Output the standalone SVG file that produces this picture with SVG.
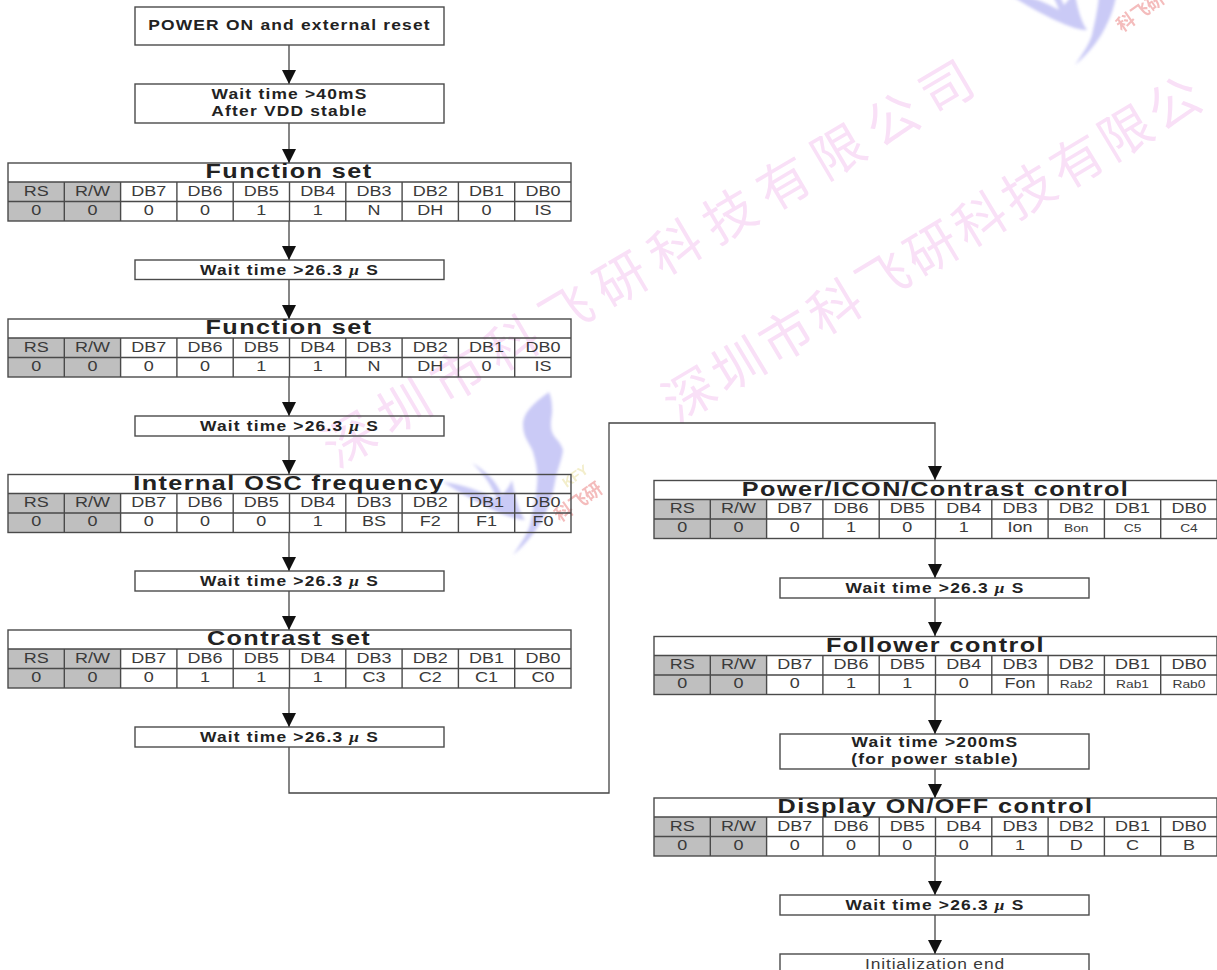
<svg xmlns="http://www.w3.org/2000/svg" width="1217" height="970" viewBox="0 0 1217 970">
<style>
text{font-family:"Liberation Sans",Arial,sans-serif;fill:#2a2a2a;text-anchor:middle}
.box{fill:none;stroke:#4a4a4a;stroke-width:1.4}
.grid{fill:none;stroke:#4a4a4a;stroke-width:1.4}
.shade{fill:#bfbfbf}
.cell{font-size:15px;fill:#3a3a3a}
.small{font-size:11.5px;fill:#3a3a3a}
.title{font-size:21px;font-weight:bold;letter-spacing:1.2px;fill:#222}
.wait{font-size:14.5px;font-weight:bold;letter-spacing:1px;fill:#222}
.plain{font-size:14.5px;letter-spacing:.7px;fill:#3a3a3a}
.mu{font-family:"Liberation Serif",serif;font-style:italic}
.conn{fill:none;stroke:#444;stroke-width:1.3}
.wm{font-family:"Noto Sans CJK SC",sans-serif;font-size:52px;fill:#f9e0f7;text-anchor:start}
.logo{fill:#cacaf6}
.lt{font-family:"Noto Sans CJK SC",sans-serif;font-size:18px;font-weight:bold;fill:#f4bcbc}
.ly{font-size:14px;font-weight:bold;fill:#f3eecb}
</style>
<defs>
<marker id="arr" markerUnits="userSpaceOnUse" markerWidth="15" markerHeight="15" refX="14" refY="7.5" orient="auto"><path d="M0 0.5L14 7.5L0 14.5Z" fill="#111"/></marker>
<filter id="soft" x="-20%" y="-20%" width="140%" height="140%"><feGaussianBlur stdDeviation="1.5"/></filter>
<filter id="soft2" x="-20%" y="-20%" width="140%" height="140%"><feGaussianBlur stdDeviation=".7"/></filter>
<g id="grid">
<rect class="shade" x="0" y="19" width="112.6" height="39"/>
<rect class="grid" x="0" y="0" width="563" height="58"/>
<path class="grid" d="M0 19H563M0 38.5H563M56.3 19V58M112.6 19V58M168.9 19V58M225.2 19V58M281.5 19V58M337.8 19V58M394.1 19V58M450.4 19V58M506.7 19V58"/>
<g transform="scale(1.2,1)">
<text class="cell" x="23.46" y="33">RS</text><text class="cell" x="70.38" y="33">R/W</text><text class="cell" x="117.3" y="33">DB7</text><text class="cell" x="164.2" y="33">DB6</text><text class="cell" x="211.1" y="33">DB5</text><text class="cell" x="258.1" y="33">DB4</text><text class="cell" x="305" y="33">DB3</text><text class="cell" x="351.9" y="33">DB2</text><text class="cell" x="398.8" y="33">DB1</text><text class="cell" x="445.8" y="33">DB0</text>
<text class="cell" x="23.46" y="52">0</text><text class="cell" x="70.38" y="52">0</text>
</g>
</g>
<g id="logoMark">
<g filter="url(#soft)">
<path class="logo" d="M549 392C535 402 523 412 523 425C523 438 531 445 533 452C537 465 538 475 537 485C536 500 532 515 530 525C526 537 518 547 513 555C525 545 536 532 543 518C550 505 553 493 555 482C557 470 562 460 563 450C561 442 554 438 552 432C549 422 553 415 552 408C552 402 551 397 549 392Z"/>
<path class="logo" d="M472 463C485 470 497 482 502 495C507 490 510 485 512 480C515 495 518 510 525 520C510 520 480 505 443 482C460 484 480 490 497 500C492 485 482 472 472 463Z"/>
</g>
<g filter="url(#soft2)">
<text class="ly" transform="translate(578,480) rotate(-35)">KFY</text>
<text class="lt" transform="translate(582,507) rotate(-35)">科飞研</text>
</g>
</g>
</defs>
<rect width="1217" height="970" fill="#fff"/>
<g id="watermark">
<text class="wm" transform="translate(350,440) rotate(-30.5)" x="-26" y="18" style="letter-spacing:11px">深圳市科飞研科技有限公司</text>
<text class="wm" transform="translate(690,395) rotate(-31)" x="-26" y="18" style="letter-spacing:4.5px">深圳市科飞研科技有限公</text>
<use href="#logoMark"/>
<use href="#logoMark" transform="translate(562,-490)"/>
</g>
<g id="connectors">
<path class="conn" marker-end="url(#arr)" d="M289 45V84"/>
<path class="conn" marker-end="url(#arr)" d="M289 123V163"/>
<path class="conn" marker-end="url(#arr)" d="M289 221V260"/>
<path class="conn" marker-end="url(#arr)" d="M289 280V319"/>
<path class="conn" marker-end="url(#arr)" d="M289 377V416"/>
<path class="conn" marker-end="url(#arr)" d="M289 436V474"/>
<path class="conn" marker-end="url(#arr)" d="M289 532V571"/>
<path class="conn" marker-end="url(#arr)" d="M289 591V630"/>
<path class="conn" marker-end="url(#arr)" d="M289 688V727"/>
<path class="conn" marker-end="url(#arr)" d="M289 747V793H609V423H935V480"/>
<path class="conn" marker-end="url(#arr)" d="M935 539V578"/>
<path class="conn" marker-end="url(#arr)" d="M935 598V636"/>
<path class="conn" marker-end="url(#arr)" d="M935 695V734"/>
<path class="conn" marker-end="url(#arr)" d="M935 769V798"/>
<path class="conn" marker-end="url(#arr)" d="M935 857V895"/>
<path class="conn" marker-end="url(#arr)" d="M935 915V954"/>
</g>
<g id="n-power-on"><rect class="box" x="135" y="7" width="309" height="38"/><text class="wait" transform="translate(289.5,30) scale(1.2,1)">POWER ON and external reset</text></g>
<g id="n-wait-40"><rect class="box" x="135" y="84" width="309" height="39"/><text class="wait" transform="translate(289.5,99) scale(1.2,1)">Wait time &gt;40mS</text><text class="wait" transform="translate(289.5,116) scale(1.2,1)">After VDD stable</text></g>
<g id="n-fs1"><use href="#grid" x="8" y="163"/><g transform="translate(8,163) scale(1.2,1)"><text class="title" x="234.2" y="15">Function set</text>
<text class="cell" x="117.3" y="52">0</text><text class="cell" x="164.2" y="52">0</text><text class="cell" x="211.1" y="52">1</text><text class="cell" x="258.1" y="52">1</text><text class="cell" x="305" y="52">N</text><text class="cell" x="351.9" y="52">DH</text><text class="cell" x="398.8" y="52">0</text><text class="cell" x="445.8" y="52">IS</text></g></g>
<g id="n-wait-1"><rect class="box" x="135" y="260" width="309" height="19.5"/><text class="wait" transform="translate(289.5,275) scale(1.2,1)">Wait time &gt;26.3 <tspan class="mu">μ</tspan> S</text></g>
<g id="n-fs2"><use href="#grid" x="8" y="319"/><g transform="translate(8,319) scale(1.2,1)"><text class="title" x="234.2" y="15">Function set</text>
<text class="cell" x="117.3" y="52">0</text><text class="cell" x="164.2" y="52">0</text><text class="cell" x="211.1" y="52">1</text><text class="cell" x="258.1" y="52">1</text><text class="cell" x="305" y="52">N</text><text class="cell" x="351.9" y="52">DH</text><text class="cell" x="398.8" y="52">0</text><text class="cell" x="445.8" y="52">IS</text></g></g>
<g id="n-wait-2"><rect class="box" x="135" y="416" width="309" height="20"/><text class="wait" transform="translate(289.5,431) scale(1.2,1)">Wait time &gt;26.3 <tspan class="mu">μ</tspan> S</text></g>
<g id="n-osc"><use href="#grid" x="8" y="474.5"/><g transform="translate(8,474.5) scale(1.2,1)"><text class="title" x="234.2" y="15">Internal OSC frequency</text>
<text class="cell" x="117.3" y="52">0</text><text class="cell" x="164.2" y="52">0</text><text class="cell" x="211.1" y="52">0</text><text class="cell" x="258.1" y="52">1</text><text class="cell" x="305" y="52">BS</text><text class="cell" x="351.9" y="52">F2</text><text class="cell" x="398.8" y="52">F1</text><text class="cell" x="445.8" y="52">F0</text></g></g>
<g id="n-wait-3"><rect class="box" x="135" y="571" width="309" height="20"/><text class="wait" transform="translate(289.5,586) scale(1.2,1)">Wait time &gt;26.3 <tspan class="mu">μ</tspan> S</text></g>
<g id="n-contrast"><use href="#grid" x="8" y="630"/><g transform="translate(8,630) scale(1.2,1)"><text class="title" x="234.2" y="15">Contrast set</text>
<text class="cell" x="117.3" y="52">0</text><text class="cell" x="164.2" y="52">1</text><text class="cell" x="211.1" y="52">1</text><text class="cell" x="258.1" y="52">1</text><text class="cell" x="305" y="52">C3</text><text class="cell" x="351.9" y="52">C2</text><text class="cell" x="398.8" y="52">C1</text><text class="cell" x="445.8" y="52">C0</text></g></g>
<g id="n-wait-4"><rect class="box" x="135" y="727" width="309" height="20"/><text class="wait" transform="translate(289.5,742) scale(1.2,1)">Wait time &gt;26.3 <tspan class="mu">μ</tspan> S</text></g>
<g id="n-pic"><use href="#grid" x="654" y="480.5"/><g transform="translate(654,480.5) scale(1.2,1)"><text class="title" x="234.6" y="15">Power/ICON/Contrast control</text>
<text class="cell" x="117.3" y="52">0</text><text class="cell" x="164.2" y="52">1</text><text class="cell" x="211.1" y="52">0</text><text class="cell" x="258.1" y="52">1</text><text class="cell" x="305" y="52">Ion</text><text class="small" x="351.9" y="52">Bon</text><text class="small" x="398.8" y="52">C5</text><text class="small" x="445.8" y="52">C4</text></g></g>
<g id="n-wait-5"><rect class="box" x="780" y="578" width="309" height="20"/><text class="wait" transform="translate(935,593) scale(1.2,1)">Wait time &gt;26.3 <tspan class="mu">μ</tspan> S</text></g>
<g id="n-follower"><use href="#grid" x="654" y="636.5"/><g transform="translate(654,636.5) scale(1.2,1)"><text class="title" x="234.6" y="15">Follower control</text>
<text class="cell" x="117.3" y="52">0</text><text class="cell" x="164.2" y="52">1</text><text class="cell" x="211.1" y="52">1</text><text class="cell" x="258.1" y="52">0</text><text class="cell" x="305" y="52">Fon</text><text class="small" x="351.9" y="52">Rab2</text><text class="small" x="398.8" y="52">Rab1</text><text class="small" x="445.8" y="52">Rab0</text></g></g>
<g id="n-wait-200"><rect class="box" x="780" y="734" width="309" height="35"/><text class="wait" transform="translate(935,747) scale(1.2,1)">Wait time &gt;200mS</text><text class="wait" transform="translate(935,764) scale(1.2,1)">(for power stable)</text></g>
<g id="n-display"><use href="#grid" x="654" y="798"/><g transform="translate(654,798) scale(1.2,1)"><text class="title" x="234.6" y="15">Display ON/OFF control</text>
<text class="cell" x="117.3" y="52">0</text><text class="cell" x="164.2" y="52">0</text><text class="cell" x="211.1" y="52">0</text><text class="cell" x="258.1" y="52">0</text><text class="cell" x="305" y="52">1</text><text class="cell" x="351.9" y="52">D</text><text class="cell" x="398.8" y="52">C</text><text class="cell" x="445.8" y="52">B</text></g></g>
<g id="n-wait-6"><rect class="box" x="780" y="895" width="309" height="20"/><text class="wait" transform="translate(935,910) scale(1.2,1)">Wait time &gt;26.3 <tspan class="mu">μ</tspan> S</text></g>
<g id="n-end"><rect class="box" x="780" y="954" width="309" height="30"/><text class="plain" transform="translate(935,968.5) scale(1.2,1)">Initialization end</text></g>
</svg>
